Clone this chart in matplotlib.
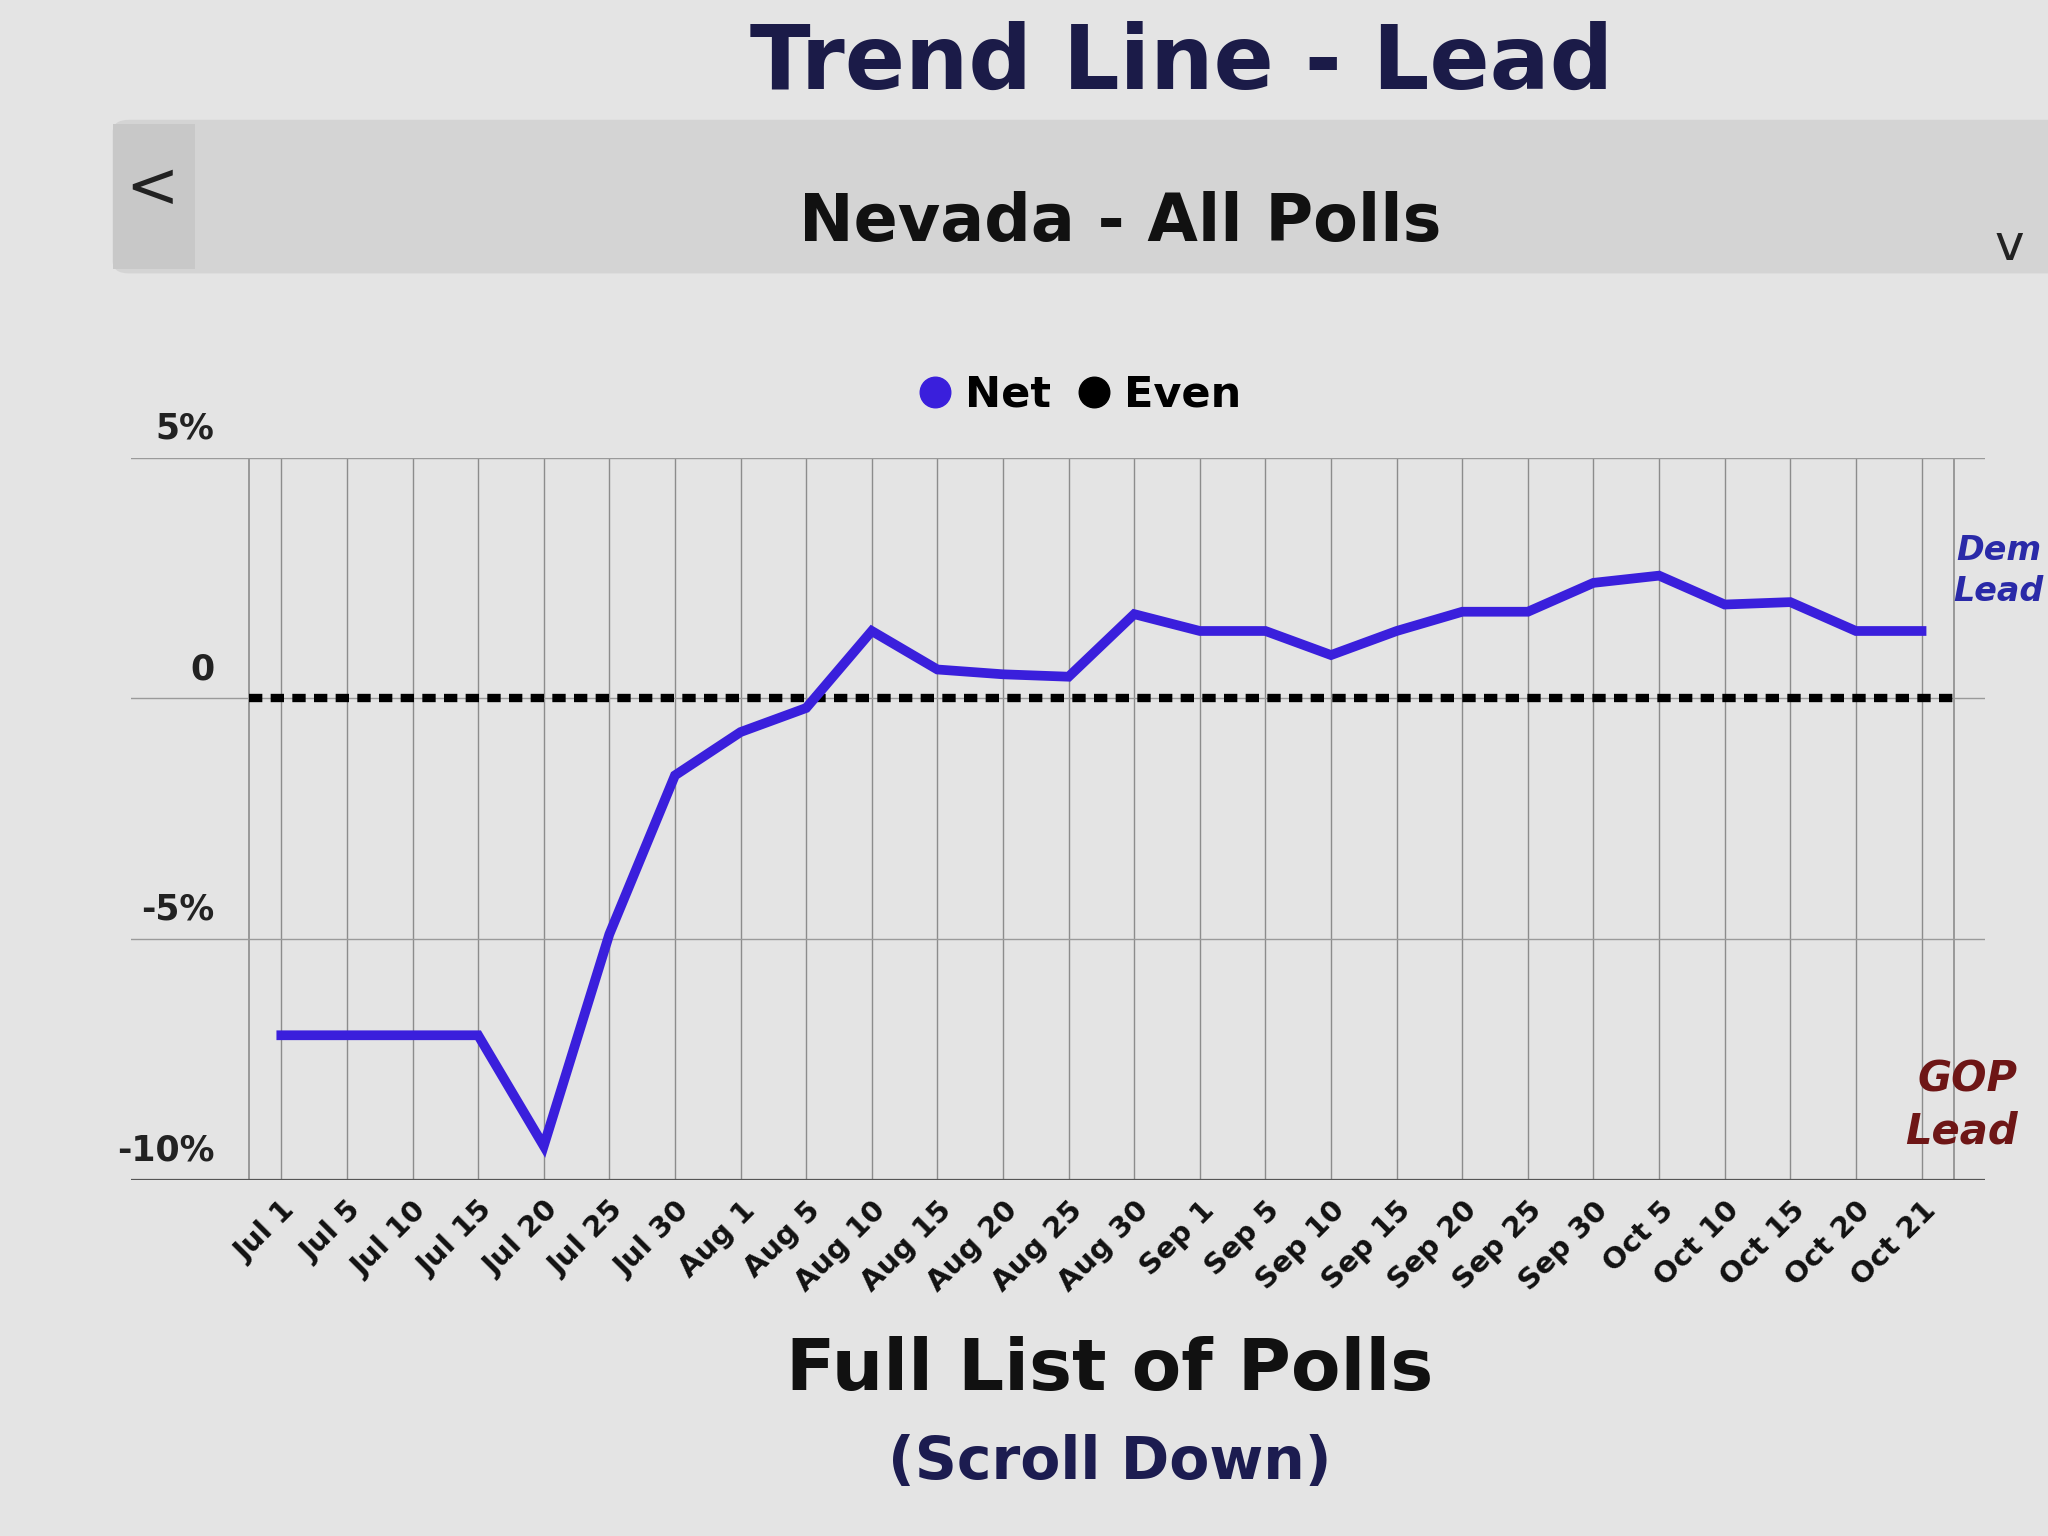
import matplotlib
matplotlib.use("Agg")
import matplotlib.pyplot as plt
from matplotlib.lines import Line2D
from matplotlib.patches import FancyBboxPatch, Rectangle

# ---- data ----
dates = ["Jul 1", "Jul 5", "Jul 10", "Jul 15", "Jul 20", "Jul 25", "Jul 30",
         "Aug 1", "Aug 5", "Aug 10", "Aug 15", "Aug 20", "Aug 25", "Aug 30",
         "Sep 1", "Sep 5", "Sep 10", "Sep 15", "Sep 20", "Sep 25", "Sep 30",
         "Oct 5", "Oct 10", "Oct 15", "Oct 20", "Oct 21"]
net = [-7.0, -7.0, -7.0, -7.0, -9.3, -4.9, -1.6,
       -0.7, -0.2, 1.4, 0.6, 0.5, 0.45, 1.75,
       1.4, 1.4, 0.9, 1.4, 1.8, 1.8, 2.4,
       2.55, 1.95, 2.0, 1.4, 1.4]
even_value = 0
y_ticks = [5, 0, -5, -10]
y_tick_labels = ["5%", "0", "-5%", "-10%"]

BG = "#e4e4e4"
NET_COLOR = "#3a1fdc"

fig = plt.figure(figsize=(20.48, 15.36), dpi=100)
fig.patch.set_facecolor(BG)

# ---- page elements ----
fig.text(0.577, 0.942, "Trend Line - Lead", ha="center", va="baseline",
         fontsize=64, fontweight="bold", color="#1b1b48")

# header bar
bar = FancyBboxPatch((0.055, 0.822), 0.96, 0.1, boxstyle="round,pad=0,rounding_size=0.008",
                     transform=fig.transFigure, facecolor="#d4d4d4", edgecolor="none", zorder=0)
fig.patches.append(bar)
btn = Rectangle((0.055, 0.825), 0.04, 0.094, transform=fig.transFigure,
                facecolor="#c8c8c8", edgecolor="none", zorder=0)
fig.patches.append(btn)
fig.text(0.074, 0.877, "<", ha="center", va="center", fontsize=46, color="#222222")
fig.text(0.547, 0.855, "Nevada - All Polls", ha="center", va="center",
         fontsize=47, fontweight="bold", color="#111111")
fig.text(0.981, 0.84, "v", ha="center", va="center", fontsize=36, color="#222222")

# ---- chart ----
ax = fig.add_axes([0.064, 0.232, 0.905, 0.47])
ax.set_facecolor(BG)
x = list(range(len(dates)))

ax.set_xlim(-2.29, 25.96)
ax.set_ylim(-10, 5)

# grid
for xi in x:
    ax.plot([xi, xi], [-10, 5], color="#8c8c8c", lw=1.0, zorder=1)
for xi in (-0.5, len(dates) - 0.5):
    ax.plot([xi, xi], [-10, 5], color="#8c8c8c", lw=1.2, zorder=1)
for yv in y_ticks:
    ax.axhline(yv, color="#555555" if yv == -10 else "#9a9a9a",
               lw=1.6 if yv == -10 else 1.0, zorder=1)

# even line (dashed) and net line
ax.hlines(even_value, -0.5, len(dates) - 0.5, colors="black", lw=6,
          linestyles=(0, (1.6, 1.0)), zorder=2)
ax.plot(x, net, color=NET_COLOR, lw=7, solid_joinstyle="miter", zorder=3)

for s in ax.spines.values():
    s.set_visible(False)
ax.set_yticks([])
ax.set_xticks(x)
ax.set_xticklabels(dates, rotation=45, ha="right", rotation_mode="anchor",
                   fontsize=21, fontweight="bold", color="#111111")
ax.tick_params(axis="x", length=0, pad=12)

for yv, lab in zip(y_ticks, y_tick_labels):
    ax.text(0.045, yv + 0.25, lab, transform=ax.get_yaxis_transform(),
            ha="right", va="bottom", fontsize=25, fontweight="bold", color="#222222")

# legend
handles = [Line2D([], [], marker="o", ls="none", color=NET_COLOR, markersize=22),
           Line2D([], [], marker="o", ls="none", color="black", markersize=22)]
fig.legend(handles, ["Net", "Even"], loc="center", bbox_to_anchor=(0.525, 0.743),
           ncol=2, frameon=False, handletextpad=0.1, columnspacing=0.4,
           handlelength=1.2, prop={"size": 31, "weight": "bold"})

# side labels
fig.text(0.976, 0.628, "Dem\nLead", ha="center", va="center", fontsize=24,
         fontweight="bold", fontstyle="italic", color="#2a2aa8", linespacing=1.3)
fig.text(0.985, 0.28, "GOP\nLead", ha="right", va="center", fontsize=30,
         fontweight="bold", fontstyle="italic", color="#6e1616", linespacing=1.3)

# bottom text
fig.text(0.542, 0.108, "Full List of Polls", ha="center", va="center",
         fontsize=52, fontweight="bold", color="#111111")
fig.text(0.542, 0.048, "(Scroll Down)", ha="center", va="center",
         fontsize=42, fontweight="bold", color="#1c1c50")

fig.savefig("out.png", dpi=100, facecolor=BG)
